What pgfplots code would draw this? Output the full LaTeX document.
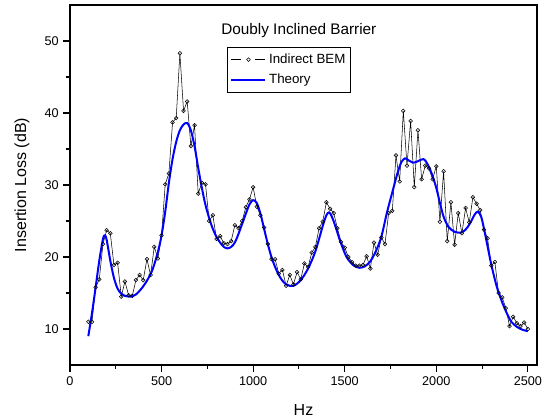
\documentclass[border=0pt]{standalone}
\usepackage{pgfplots}
\pgfplotsset{compat=1.18}
\usepackage{fontspec}
\setmainfont{Liberation Sans}
\pgfplotsset{bemlegend/.style={legend image code/.code={%
  \draw[##1, mark=none] (0pt,0pt)--(7.5pt,0pt) (18pt,0pt)--(25.5pt,0pt);
  \draw[##1] plot coordinates {(12.75pt,0pt)};}}}
\begin{document}
\begin{tikzpicture}
\begin{axis}[
  scale only axis, width=350.25pt, height=270pt,
  xmin=0, xmax=2550, ymin=5, ymax=55,
  xtick={0,500,1000,1500,2000,2500}, ytick={10,20,30,40,50},
  minor xtick={250,750,1250,1750,2250}, minor ytick={15,25,35,45},
  tick align=outside, xtick pos=bottom, ytick pos=left,
  major tick length=5pt, minor tick length=3pt,
  axis line style={line width=1.1pt},
  every tick/.style={black, line width=0.8pt},
  tick label style={font=\fontsize{9.5}{11}\selectfont},
  /pgf/number format/assume math mode=true,
  /pgf/number format/set thousands separator={},
  xlabel={Hz}, ylabel={Insertion Loss (dB)},
  label style={font=\fontsize{12}{14}\selectfont},
  xlabel style={at={(axis description cs:0.5,-0.125)}, anchor=center},
  ylabel style={at={(axis description cs:-0.103,0.5)}, anchor=center},
  legend style={at={(rel axis cs:0.337,0.884)}, anchor=north west, draw=black, line width=0.6pt,
    font=\fontsize{10}{12}\selectfont, inner xsep=2pt, inner ysep=3pt, row sep=2.5pt,
    /tikz/every even column/.append style={column sep=2pt}},
  legend cell align=left,
  legend image code/.code={\draw[#1] (0pt,0pt) -- (25.5pt,0pt);},
]
\addplot[black, line width=0.4pt, mark=o, mark size=1.4pt, mark options={fill=white, line width=0.4pt},
  bemlegend] coordinates {
(100,11.0) (120,11.0) (140,15.8) (160,16.9) (180,21.8) (200,23.7) (220,23.3) (240,18.9) (260,19.2) (280,14.5)
(300,16.6) (320,14.7) (340,14.6) (360,16.8) (380,17.5) (400,16.8) (420,19.7) (440,17.5) (460,21.4) (480,19.8)
(500,23.0) (520,30.1) (540,31.6) (560,38.7) (580,39.3) (600,48.3) (620,40.3) (640,41.6) (660,35.4) (680,38.3)
(700,28.8) (720,30.3) (740,30.1) (760,25.0) (780,25.8) (800,22.5) (820,22.9) (840,21.9) (860,21.8) (880,22.2)
(900,24.4) (920,24.0) (940,25.0) (960,26.9) (980,28.0) (1000,29.7) (1020,27.0) (1040,25.8) (1060,24.1) (1080,21.8)
(1100,19.7) (1120,19.7) (1140,17.7) (1160,18.2) (1180,16.0) (1200,17.5) (1220,16.2) (1240,17.9) (1260,16.9) (1280,19.1)
(1300,18.6) (1320,20.6) (1340,21.4) (1360,24.0) (1380,24.9) (1400,27.6) (1420,26.7) (1440,26.1) (1460,24.0) (1480,22.1)
(1500,21.3) (1520,20.0) (1540,19.3) (1560,18.8) (1580,18.8) (1600,18.9) (1620,20.1) (1640,18.4) (1660,22.0) (1680,20.3)
(1700,22.7) (1720,21.8) (1740,26.1) (1760,26.4) (1780,34.1) (1800,30.5) (1820,40.3) (1840,32.7) (1860,38.9) (1880,29.7)
(1900,37.6) (1920,30.8) (1940,32.7) (1960,32.3) (1980,30.8) (2000,32.6) (2020,24.9) (2040,31.9) (2060,22.2) (2080,27.6)
(2100,21.7) (2120,26.1) (2140,23.3) (2160,26.8) (2180,24.8) (2200,28.3) (2220,27.4) (2240,26.5) (2260,23.8) (2280,22.6)
(2300,18.8) (2320,19.3) (2340,15.0) (2360,14.4) (2380,12.9) (2400,10.4) (2420,11.7) (2440,10.8) (2460,10.4) (2480,10.9)
(2500,10.0)
};
\addlegendentry{Indirect BEM}
\addplot[blue, line width=1.5pt, smooth] coordinates {
(100,9.0) (120,12.2) (140,15.8) (160,19.5) (180,22.5) (190,23.0) (200,22.4) (220,19.5) (240,17.1) (260,15.6)
(280,14.9) (300,14.6) (330,14.5) (360,14.8) (390,15.6) (420,16.7) (450,18.2) (480,20.7) (500,23.0) (520,26.3)
(540,30.3) (560,33.6) (580,36.0) (600,37.6) (620,38.4) (640,38.6) (660,37.6) (680,35.4) (700,32.4) (720,29.6)
(740,27.2) (760,25.4) (780,23.9) (800,22.8) (820,22.0) (840,21.4) (860,21.2) (880,21.4) (900,22.0) (920,23.2)
(940,24.6) (960,26.0) (980,27.3) (1000,27.9) (1020,27.5) (1040,26.0) (1060,23.9) (1080,21.8) (1100,20.0) (1120,18.6)
(1140,17.5) (1160,16.7) (1180,16.2) (1200,16.0) (1220,16.0) (1240,16.3) (1260,16.8) (1280,17.5) (1300,18.4) (1320,19.5)
(1340,20.8) (1360,22.5) (1380,24.3) (1400,25.8) (1415,26.2) (1430,25.6) (1450,24.2) (1470,22.6) (1490,21.2) (1510,20.0)
(1530,19.3) (1550,18.8) (1580,18.5) (1610,18.7) (1640,19.4) (1670,20.8) (1700,22.8) (1730,26.1) (1760,29.0) (1790,31.8)
(1810,33.2) (1830,33.7) (1850,33.4) (1875,33.1) (1900,33.3) (1930,33.6) (1950,33.0) (1975,31.6) (2000,29.6) (2020,27.5)
(2040,25.6) (2066,24.2) (2100,23.5) (2134,23.4) (2160,23.8) (2185,24.7) (2210,25.9) (2227,26.3) (2245,25.6) (2260,24.0)
(2280,21.5) (2300,19.0) (2330,15.9) (2360,13.7) (2385,12.2) (2410,11.0) (2440,10.3) (2470,9.9) (2500,9.7)
};
\addlegendentry{Theory}
\node[font=\fontsize{11.5}{13}\selectfont] at (rel axis cs:0.49,0.93) {Doubly Inclined Barrier};
\end{axis}
\pgfresetboundingbox
\path ([shift={(-52.5pt,-40.5pt)}]current axis.south west) rectangle ([shift={(9.75pt,3.75pt)}]current axis.north east);
\end{tikzpicture}
\end{document}
